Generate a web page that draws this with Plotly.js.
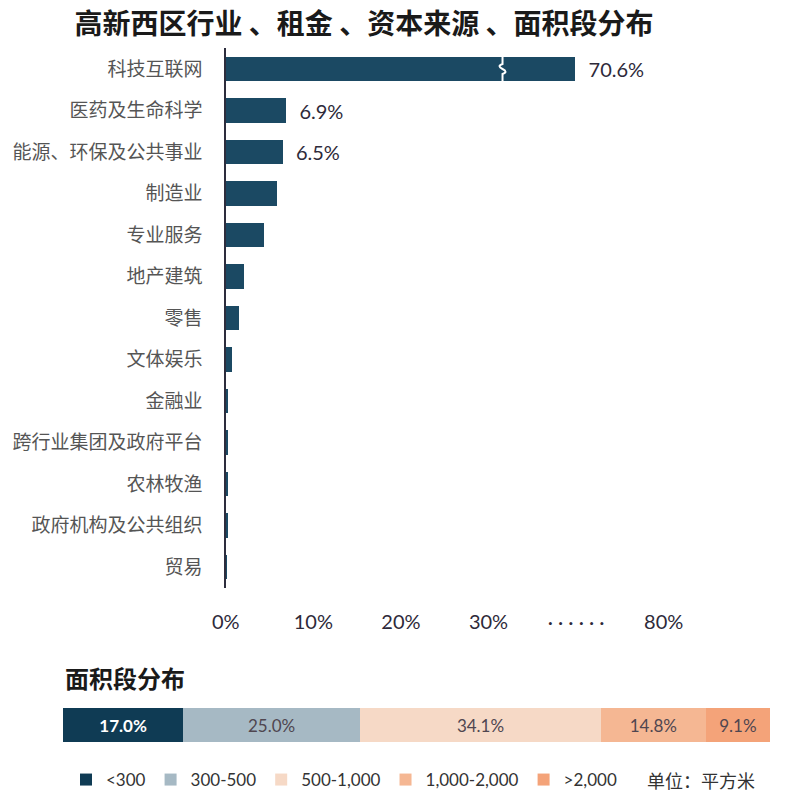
<!DOCTYPE html>
<html>
<head>
<meta charset="utf-8">
<script src="https://cdn.plot.ly/plotly-3.0.1.min.js"></script>
<style>html,body{margin:0;padding:0;background:#fff;}#chart{width:806px;height:806px;}</style>
</head>
<body>
<div id="chart"></div>
<script>
// ---- data ----
const industries = ['科技互联网','医药及生命科学','能源、环保及公共事业','制造业','专业服务','地产建筑','零售','文体娱乐','金融业','跨行业集团及政府平台','农林牧渔','政府机构及公共组织','贸易'];
const industryShare = [70.6, 6.9, 6.5, 5.9, 4.4, 2.1, 1.5, 0.7, 0.3, 0.3, 0.3, 0.3, 0.1];
const industryLabels = ['70.6%', '6.9%', '6.5%', '', '', '', '', '', '', '', '', '', ''];
const xTickVals = [0, 10, 20, 30, 40, 50];
const xTickText = ['0%', '10%', '20%', '30%', '\u00b7 \u00b7 \u00b7 \u00b7 \u00b7 \u00b7', '80%'];
const breakStart = 30;      // axis is broken above this value
const breakCompress = 0.244; // compression of the part above the break
const breakMark = 31.6;

const areaBands = ['<300', '300-500', '500-1,000', '1,000-2,000', '>2,000'];
const areaShare = [17.0, 25.0, 34.1, 14.8, 9.1];
const areaColors = ['#0f3b54', '#a6b9c4', '#f6d9c6', '#f5b793', '#f4a379'];
const areaTextColors = ['#ffffff', '#4f4650', '#4f4650', '#4f4650', '#4f4650'];

// map a real value onto the broken axis
const toBroken = v => v <= breakStart ? v : breakStart + (v - breakStart) * breakCompress;

const FONT = 'Lato, "Noto Sans CJK SC", sans-serif';
const CJK = '"Noto Sans CJK SC", Lato, sans-serif';

const traces = [{
  type: 'bar', orientation: 'h',
  y: industries, x: industryShare.map(toBroken),
  width: 0.6,
  marker: {color: '#1b4963'},
  text: industryLabels.map(t => t ? '\u00a0\u00a0' + t : ''),
  textposition: 'outside', cliponaxis: false,
  textfont: {family: FONT, size: 20, color: '#2e2a3a'},
  hoverinfo: 'skip', showlegend: false,
  xaxis: 'x', yaxis: 'y'
}];

areaBands.forEach((b, i) => {
  const tf = {family: 'Lato', size: 17, color: areaTextColors[i], weight: i === 0 ? 700 : 400};
  traces.push({
    type: 'bar', orientation: 'h',
    name: b, y: ['area'], x: [areaShare[i]],
    width: 1,
    marker: {color: areaColors[i]},
    text: [areaShare[i].toFixed(1) + '%'],
    textposition: 'inside', insidetextanchor: 'middle', textangle: 0,
    constraintext: 'none',
    textfont: tf, insidetextfont: tf,
    hoverinfo: 'skip',
    xaxis: 'x2', yaxis: 'y2'
  });
});

const W = 806, H = 806;
const layout = {
  width: W, height: H,
  margin: {l: 0, r: 0, t: 0, b: 0},
  paper_bgcolor: '#ffffff', plot_bgcolor: 'rgba(0,0,0,0)',
  barmode: 'stack',
  font: {family: CJK, color: '#333'},
  title: {
    text: '高新西区行业 、租金 、资本来源 、面积段分布',
    font: {family: CJK, size: 28, weight: 'bold', color: '#1a1a1a'},
    x: 364 / W, xanchor: 'center', xref: 'paper',
    y: 1 - 24 / H, yanchor: 'middle', yref: 'container'
  },
  xaxis: {
    domain: [225.7 / W, 751.3 / W], range: [0, 60],
    tickvals: xTickVals, ticktext: xTickText,
    showgrid: false, zeroline: false, showline: false,
    ticks: 'outside', ticklen: 16, tickcolor: 'rgba(0,0,0,0)',
    tickfont: {family: FONT, size: 20, color: '#2e2a3a'},
    fixedrange: true
  },
  yaxis: {
    domain: [1 - 587.75 / H, 1 - 48.25 / H],
    type: 'category', range: [12.5, -0.5],
    showgrid: false, zeroline: false,
    showline: true, linecolor: '#2d2d3d', linewidth: 1.5,
    ticks: 'outside', ticklen: 18, tickcolor: 'rgba(0,0,0,0)',
    tickfont: {family: CJK, size: 19, color: '#555'},
    fixedrange: true
  },
  xaxis2: {
    domain: [63 / W, 770 / W], range: [0, 100],
    visible: false, fixedrange: true
  },
  yaxis2: {
    domain: [1 - 742 / H, 1 - 708 / H], range: [-0.5, 0.5],
    visible: false, fixedrange: true
  },
  showlegend: true,
  legend: {
    orientation: 'h', x: 66 / W, xanchor: 'left', y: 1 - 780 / H, yanchor: 'middle',
    font: {family: FONT, size: 17, color: '#333'},
    itemclick: false, itemdoubleclick: false, traceorder: 'normal'
  },
  annotations: [{
    text: '面积段分布', xref: 'paper', yref: 'paper',
    x: 63 / W, xanchor: 'left', y: 1 - 677 / H, yanchor: 'middle',
    showarrow: false, font: {family: CJK, size: 24, weight: 'bold', color: '#1a1a1a'}
  }, {
    text: '单位：平方米', xref: 'paper', yref: 'paper',
    x: 645 / W, xanchor: 'left', y: 1 - 780 / H, yanchor: 'middle',
    showarrow: false, font: {family: CJK, size: 18, color: '#333'}
  }],
  shapes: [{
    type: 'path', xref: 'x', yref: 'y',
    xsizemode: 'pixel', ysizemode: 'pixel',
    xanchor: breakMark, yanchor: industries[0],
    path: 'M0,-13 L0,-5 Q6,-3 0,0 Q-6,3 0,5 L0,13',
    line: {color: '#ffffff', width: 2}
  }]
};

Plotly.newPlot('chart', traces, layout, {displayModeBar: false, staticPlot: true});
</script>
</body>
</html>
